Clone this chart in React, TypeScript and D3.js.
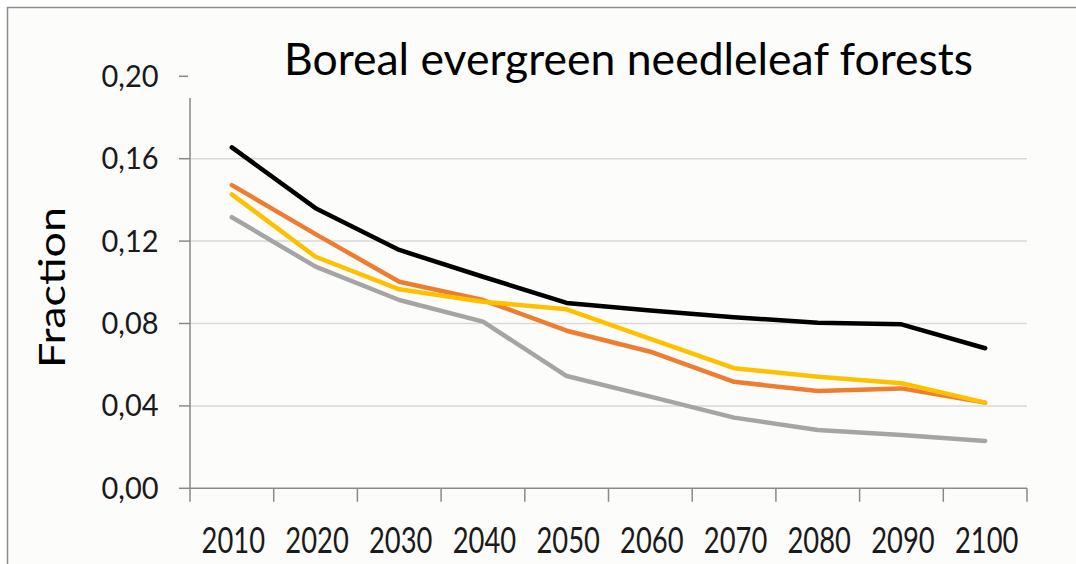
import React from "react";
import * as d3 from "d3";

const years = ["2010", "2020", "2030", "2040", "2050", "2060", "2070", "2080", "2090", "2100"];
const yTicks = [0, 0.04, 0.08, 0.12, 0.16, 0.2];
const yTickLabels = ["0,00", "0,04", "0,08", "0,12", "0,16", "0,20"];
const gridTicks = [0.04, 0.08, 0.12, 0.16];

const seriesBlack = [0.1655, 0.136, 0.1157, 0.1027, 0.09, 0.0863, 0.083, 0.0804, 0.0796, 0.068];
const seriesOrange = [0.1472, 0.1234, 0.1003, 0.0914, 0.0765, 0.0663, 0.0517, 0.0472, 0.0485, 0.0416];
const seriesGray = [0.1316, 0.1076, 0.0914, 0.0809, 0.0545, 0.0445, 0.0343, 0.0283, 0.0259, 0.023];
const seriesYellow = [0.1427, 0.1124, 0.0966, 0.0906, 0.0869, 0.0725, 0.0583, 0.0542, 0.051, 0.0416];

const seriesList = [
  { name: "black", values: seriesBlack, color: "#000000" },
  { name: "orange", values: seriesOrange, color: "#ED7D31" },
  { name: "gray", values: seriesGray, color: "#A5A5A5" },
  { name: "yellow", values: seriesYellow, color: "#FFC000" },
];

const title = "Boreal evergreen needleleaf forests";
const yTitle = "Fraction";

const W = 1076;
const H = 564;
const FONT = "Lato, 'Open Sans', sans-serif";
const BG = "#fcfcfa";
const AXIS = "#8a8a8a";
const GRID = "#d9d9d9";

export default function App() {
  const x = d3.scaleBand<string>().domain(years).range([190, 1027]).padding(0);
  const y = d3.scaleLinear().domain([0, 0.2]).range([488.3, 76.3]);
  const cx = (c: string) => (x(c) as number) + x.bandwidth() / 2;

  const line = d3
    .line<number>()
    .x((_, i) => cx(years[i]))
    .y((v) => y(v));

  const boundaries = years.map((c) => x(c) as number).concat([1027]);

  return (
    <svg
      width={W}
      height={H}
      style={{ position: "absolute", left: 0, top: 0, display: "block" }}
    >
      <rect x={0} y={0} width={W} height={H} fill="#ffffff" />
      <rect x={7.5} y={7.5} width={W + 20} height={H + 20} fill={BG} stroke="#8c8c8c" strokeWidth={1.5} />

      {/* gridlines */}
      {gridTicks.map((t) => (
        <line key={"g" + t} x1={190} x2={1027} y1={y(t)} y2={y(t)} stroke={GRID} strokeWidth={1.5} />
      ))}

      {/* y axis */}
      <line x1={190} x2={190} y1={y(0)} y2={y(0.2)} stroke={AXIS} strokeWidth={1.5} />
      {yTicks.map((t, i) => (
        <g key={"yt" + t}>
          <line x1={179} x2={190} y1={y(t)} y2={y(t)} stroke={AXIS} strokeWidth={1.5} />
          <text
            x={158.5}
            y={y(t) + 10.5}
            textAnchor="end"
            fontFamily={FONT}
            fontSize={31.5}
            fill="#1a1a1a"
            textLength={57}
            lengthAdjust="spacingAndGlyphs"
          >
            {yTickLabels[i]}
          </text>
        </g>
      ))}

      {/* x axis */}
      <line x1={190} x2={1027} y1={y(0)} y2={y(0)} stroke={AXIS} strokeWidth={1.5} />
      {boundaries.map((b, i) => (
        <line key={"xt" + i} x1={b} x2={b} y1={y(0)} y2={y(0) + 13.5} stroke={AXIS} strokeWidth={1.5} />
      ))}
      {years.map((c) => (
        <text
          key={"xl" + c}
          x={cx(c) + 1.5}
          y={552.7}
          textAnchor="middle"
          fontFamily={FONT}
          fontSize={36}
          fill="#1a1a1a"
          textLength={63.5}
          lengthAdjust="spacingAndGlyphs"
        >
          {c}
        </text>
      ))}

      {/* series */}
      {seriesList.map((s) => (
        <path
          key={s.name}
          d={line(s.values) || ""}
          fill="none"
          stroke={s.color}
          strokeWidth={4.5}
          strokeLinejoin="round"
          strokeLinecap="round"
        />
      ))}

      {/* title box */}
      <rect x={188} y={18} width={877} height={80} fill={BG} />
      <text
        x={284}
        y={75}
        fontFamily={FONT}
        fontSize={44}
        fill="#000000"
        textLength={689}
        lengthAdjust="spacingAndGlyphs"
      >
        {title}
      </text>

      {/* y title */}
      <text
        transform="translate(65,287.5) rotate(-90)"
        textAnchor="middle"
        fontFamily={FONT}
        fontSize={37}
        fill="#000000"
        textLength={161}
        lengthAdjust="spacingAndGlyphs"
      >
        {yTitle}
      </text>
    </svg>
  );
}
